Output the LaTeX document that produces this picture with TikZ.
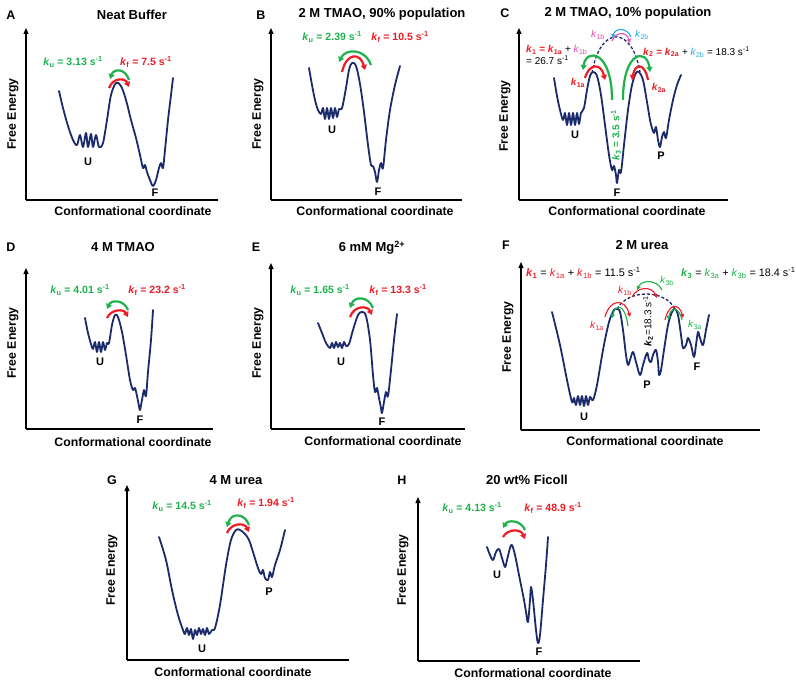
\documentclass[tikz,border=0pt]{standalone}
\usepackage{fontspec}
\setmainfont{Liberation Sans}
\usetikzlibrary{arrows.meta}
\definecolor{navy}{RGB}{27,42,107}
\definecolor{kgreen}{RGB}{30,178,76}
\definecolor{kred}{RGB}{238,28,37}
\definecolor{kpink}{RGB}{232,76,176}
\definecolor{kblue}{RGB}{42,170,226}
\newcommand\karc[6]{\draw[#1] (#2,#3) .. controls ({#2+0.2*(#4-#2)},{#3-1.333*(#3-#6)}) and ({#4-0.2*(#4-#2)},{#5-1.333*(#5-#6)}) .. (#4,#5);}
\newcommand\kk[1]{\textit{k}\textsubscript{#1}}
\begin{document}
\begin{tikzpicture}[x=1pt,y=-1pt,
  curve/.style={navy, line width=1.8pt, line join=round, line cap=round},
  xax/.style={black, line width=1.1pt},
  yax/.style={black, line width=1.1pt, -{Triangle[length=6pt,width=5pt]}},
  garr/.style={kgreen, line width=2.2pt, -{Triangle[length=5pt,width=6pt]}},
  rarr/.style={kred, line width=2.2pt, -{Triangle[length=5pt,width=6pt]}},
  gthin/.style={kgreen, line width=1.1pt, -{Triangle[length=4pt,width=4pt]}},
  rthin/.style={kred, line width=1.1pt, -{Triangle[length=4pt,width=4pt]}},
  pthin/.style={kpink, line width=1.1pt, -{Triangle[length=4pt,width=4pt]}},
  bthin/.style={kblue, line width=1.1pt, -{Triangle[length=4pt,width=4pt]}},
  dashline/.style={navy, line width=1.3pt, dash pattern=on 3pt off 2pt},
  ttl/.style={font=\bfseries\fontsize{13}{15}\selectfont},
  plab/.style={font=\bfseries\fontsize{12.5}{14}\selectfont},
  axl/.style={font=\bfseries\fontsize{12.3}{14}\selectfont},
  fel/.style={axl, rotate=90},
  st/.style={font=\bfseries\fontsize{11}{13}\selectfont},
  rate/.style={font=\bfseries\fontsize{10.5}{12}\selectfont},
  small/.style={font=\fontsize{10}{12}\selectfont, inner sep=0pt},
]
\useasboundingbox (0,0) rectangle (796,682);
\fill[white] (0,0) rectangle (796,682);

% ===== Panel A =====
\node[plab] (lA) at (11,15) {A};
\node[ttl] (tA) at (132,15) {Neat Buffer};
\draw[yax] (26,200) -- (26,28);
\draw[xax] (26,200) -- (218,200);
\node[fel] (feA) at (13,114) {Free Energy};
\node[axl] (ccA) at (133,211) {Conformational coordinate};
\draw[curve] plot[smooth, tension=0.55] coordinates {(59,91) (63,108) (68,126) (73,140) (77,145) (80,135) (83,147) (86,133) (88,147) (91,134) (93,147) (96,135) (99,147) (103,143) (107,120) (111,95) (116,83) (121,86) (126,100) (131,120) (136,138) (140,155) (143,168) (145,165) (147,172) (150,180) (153,186) (156,180) (159,168) (161,163) (163,168) (165,150) (168,120) (171,95) (173,78)};
\node[st] (uA) at (88,162) {U};
\node[st] (fA) at (155,193) {F};
\karc{garr}{129}{80}{110}{79}{71}
\karc{rarr}{109}{88}{129}{87}{80}
\node[rate, text=kgreen] (kuA) at (73,62) {\kk{u} = 3.13 s\textsuperscript{-1}};
\node[rate, text=kred] (kfA) at (146,62) {\kk{f} = 7.5 s\textsuperscript{-1}};

% ===== Panel B =====
\node[plab] (lB) at (261,15) {B};
\node[ttl] (tB) at (382,14) {2 M TMAO, 90\% population};
\draw[yax] (271,200) -- (271,28);
\draw[xax] (271,200) -- (462,200);
\node[fel] (feB) at (258,114) {Free Energy};
\node[axl] (ccB) at (375,211) {Conformational coordinate};
\draw[curve] plot[smooth, tension=0.55] coordinates {(309,68) (312,85) (315,100) (318,110) (321,114) (323,108) (325,119) (327,108) (329,119) (331,108) (333,118) (335,108) (337,117) (339,109) (342,108) (346,88) (349,70) (352,63) (356,66) (360,84) (364,112) (368,145) (371,165) (373,166) (375,172) (377,182) (379,170) (381,163) (383,168) (386,140) (390,110) (395,85) (400,66)};
\node[st] (uB) at (332,130) {U};
\node[st] (fB) at (378,192) {F};
\karc{garr}{371}{65}{339}{62}{52}
\karc{rarr}{342}{72}{365}{70}{57}
\node[rate, text=kgreen] (kuB) at (332,37) {\kk{u} = 2.39 s\textsuperscript{-1}};
\node[rate, text=kred] (kfB) at (400,37) {\kk{f} = 10.5 s\textsuperscript{-1}};

% ===== Panel C =====
\node[plab] (lC) at (505,13) {C};
\node[ttl] (tC) at (628,13) {2 M TMAO, 10\% population};
\draw[yax] (519,200) -- (519,28);
\draw[xax] (519,200) -- (728,200);
\node[fel] (feC) at (505,116) {Free Energy};
\node[axl] (ccC) at (627,211) {Conformational coordinate};
\draw[curve] plot[smooth, tension=0.55] coordinates {(554,78) (557,96) (560,110) (563,120) (565,113) (567,125) (569,113) (571,125) (573,113) (575,125) (577,113) (579,124) (581,113) (584,108) (587,90) (590,76) (593,72) (597,76) (601,95) (605,125) (609,155) (612,170) (614,166) (616,175) (617,183) (619,170) (621,172) (624,145) (628,110) (632,85) (636,73) (639,72) (643,80) (647,102) (650,120) (652,128) (654,133) (656,127) (658,140) (660,147) (662,137) (664,132) (666,138) (669,120) (673,100) (677,85) (681,75)};
\node[st] (uC) at (575,135) {U};
\node[st] (fC) at (617,193) {F};
\node[st] (pC) at (661,156) {P};
\draw[dashline] (592,73) .. controls (600,25) and (632,25) .. (640,72);
\draw[garr] (612,100) .. controls (612,50) and (586,48) .. (583,70);
\draw[garr] (623,100) .. controls (623,50) and (647,48) .. (650,72);
\karc{rarr}{585}{78}{605}{80}{67}
\karc{rarr}{648}{80}{632}{80}{67}
\karc{pthin}{612}{41}{630}{43}{34}
\karc{bthin}{631}{37}{612}{38}{30}
\node[small, text=kpink] (k1bC) at (598,35) {\kk{1b}};
\node[small, text=kblue] (k2bC) at (642,35) {\kk{2b}};
\node[small, font=\bfseries\fontsize{10}{12}\selectfont, text=kred] (k1aC) at (578,83) {\kk{1a}};
\node[small, font=\bfseries\fontsize{10}{12}\selectfont, text=kred] (k2aC) at (659,88) {\kk{2a}};
\node[small, anchor=west] (c1) at (526,50) {\textcolor{kred}{\bfseries\kk{1} = \kk{1a}} + \textcolor{kpink}{\kk{1b}}};
\node[small, anchor=west] (c1b) at (526,60) {= 26.7 s\textsuperscript{-1}};
\node[small, anchor=west] (c2) at (643,52) {\textcolor{kred}{\bfseries\kk{2} = \kk{2a}} + \textcolor{kblue}{\kk{2b}} = 18.3 s\textsuperscript{-1}};
\node[small, rotate=90, font=\bfseries\fontsize{10}{12}\selectfont, text=kgreen] (k3C) at (616,135) {\kk{3} = 3.5 s\textsuperscript{-1}};

% ===== Panel D =====
\node[plab] (lD) at (11,247) {D};
\node[ttl] (tD) at (123,247) {4 M TMAO};
\draw[yax] (26,429) -- (26,268);
\draw[xax] (26,429) -- (213,429);
\node[fel] (feD) at (13,343) {Free Energy};
\node[axl] (ccD) at (133,442) {Conformational coordinate};
\draw[curve] plot[smooth, tension=0.55] coordinates {(85,318) (88,333) (91,344) (93,349) (95,342) (97,352) (99,342) (101,352) (103,342) (105,350) (107,343) (109,343) (112,325) (115,315) (118,317) (122,332) (126,355) (130,380) (133,390) (135,388) (137,396) (139,406) (140,410) (142,400) (144,390) (146,396) (148,372) (151,340) (153,310)};
\node[st] (uD) at (100,362) {U};
\node[st] (fD) at (140,420) {F};
\karc{garr}{128}{310}{107}{309}{302}
\karc{rarr}{107}{318}{128}{317}{311}
\node[rate, text=kgreen] (kuD) at (80,290) {\kk{u} = 4.01 s\textsuperscript{-1}};
\node[rate, text=kred] (kfD) at (157,290) {\kk{f} = 23.2 s\textsuperscript{-1}};

% ===== Panel E =====
\node[plab] (lE) at (256,247) {E};
\node[ttl] (tE) at (372,248) {6 mM Mg\textsuperscript{2+}};
\draw[yax] (271,429) -- (271,263);
\draw[xax] (271,429) -- (465,429);
\node[fel] (feE) at (258,343) {Free Energy};
\node[axl] (ccE) at (383,441) {Conformational coordinate};
\draw[curve] plot[smooth, tension=0.55] coordinates {(318,323) (322,333) (326,343) (330,348) (332,343) (334,348) (336,342) (338,347) (340,343) (342,348) (344,342) (346,346) (349,344) (353,330) (358,315) (362,312) (366,316) (370,340) (373,375) (375,392) (377,388) (379,398) (381,408) (382,413) (384,402) (386,392) (388,396) (391,370) (394,340) (397,314)};
\node[st] (uE) at (341,362) {U};
\node[st] (fE) at (382,422) {F};
\karc{garr}{373}{308}{350}{308}{299}
\karc{rarr}{350}{317}{372}{315}{308}
\node[rate, text=kgreen] (kuE) at (320,290) {\kk{u} = 1.65 s\textsuperscript{-1}};
\node[rate, text=kred] (kfE) at (398,290) {\kk{f} = 13.3 s\textsuperscript{-1}};

% ===== Panel F =====
\node[plab] (lF) at (506,245) {F};
\node[ttl] (tF) at (642,245) {2 M urea};
\draw[yax] (521,430) -- (521,262);
\draw[xax] (521,430) -- (760,430);
\node[fel] (feF) at (508,337) {Free Energy};
\node[axl] (ccF) at (645,441) {Conformational coordinate};
\draw[curve] plot[smooth, tension=0.55] coordinates {(552,312) (560,345) (567,380) (572,402) (574,398) (576,405) (578,396) (580,405) (582,396) (584,406) (586,396) (588,405) (590,397) (593,400) (597,385) (603,350) (609,322) (614,310) (617,309) (620,312) (623,330) (626,355) (628,365) (630,360) (633,352) (636,362) (640,375) (643,365) (647,353) (649,360) (651,362) (653,355) (656,350) (658,362) (659,375) (661,370) (664,350) (668,325) (672,312) (675,309) (678,315) (681,335) (683,348) (686,345) (688,338) (691,345) (694,357) (696,345) (698,332) (700,338) (703,345) (706,330) (709,315)};
\node[st] (uF) at (584,417) {U};
\node[st] (pF) at (647,385) {P};
\node[st] (fF) at (697,367) {F};
\draw[dashline] (617,309) .. controls (628,289) and (665,289) .. (675,309);
\karc{rthin}{605}{317}{630}{317}{303}
\karc{gthin}{628}{326}{612}{318}{308}
\karc{rthin}{632}{297}{657}{298}{289}
\karc{gthin}{662}{290}{637}{290}{282}
\karc{rthin}{665}{320}{683}{318}{307}
\karc{gthin}{682}{320}{668}{320}{310}
\node[small, text=kred] (k1aF) at (597,326) {\kk{1a}};
\node[small, text=kred] (k1bF) at (625,291) {\kk{1b}};
\node[small, text=kgreen] (k3bF) at (667,281) {\kk{3b}};
\node[small, text=kgreen] (k3aF) at (695,325) {\kk{3a}};
\node[small, rotate=90] (k2F) at (648,321) {\textbf{\kk{2}}=18.3 s\textsuperscript{-1}};
\node[small, anchor=west, font=\fontsize{10.9}{12}\selectfont] (f1) at (526,273) {\textcolor{kred}{\textbf{\kk{1}}} = \textcolor{kred}{\kk{1a}} + \textcolor{kred}{\kk{1b}} = 11.5 s\textsuperscript{-1}};
\node[small, anchor=west, font=\fontsize{10.8}{12}\selectfont] (f3) at (681,273) {\textcolor{kgreen}{\textbf{\kk{3}}} = \textcolor{kgreen}{\kk{3a}} + \textcolor{kgreen}{\kk{3b}} = 18.4 s\textsuperscript{-1}};

% ===== Panel G =====
\node[plab] (lG) at (112,480) {G};
\node[ttl] (tG) at (236,480) {4 M urea};
\draw[yax] (127,660) -- (127,485);
\draw[xax] (127,660) -- (349,660);
\node[fel] (feG) at (112,570) {Free Energy};
\node[axl] (ccG) at (233,672) {Conformational coordinate};
\draw[curve] plot[smooth, tension=0.55] coordinates {(159,537) (166,560) (172,590) (178,615) (183,630) (185,634) (187,628) (189,635) (191,629) (193,639) (195,630) (197,635) (199,628) (201,634) (203,629) (205,635) (207,628) (209,634) (212,630) (215,628) (220,605) (226,565) (231,540) (236,530) (240,530) (245,534) (249,540) (253,552) (258,568) (261,574) (263,570) (265,578) (268,580) (270,572) (272,577) (275,565) (280,550) (285,530)};
\node[st] (uG) at (202,649) {U};
\node[st] (pG) at (269,592) {P};
\karc{garr}{249}{525}{227}{527}{516}
\karc{rarr}{227}{533}{249}{532}{525}
\node[rate, text=kgreen] (kuG) at (182,506) {\kk{u} = 14.5 s\textsuperscript{-1}};
\node[rate, text=kred] (kfG) at (266,503) {\kk{f} = 1.94 s\textsuperscript{-1}};

% ===== Panel H =====
\node[plab] (lH) at (402,480) {H};
\node[ttl] (tH) at (527,480) {20 wt\% Ficoll};
\draw[yax] (418,661) -- (418,497);
\draw[xax] (418,661) -- (640,661);
\node[fel] (feH) at (403,570) {Free Energy};
\node[axl] (ccH) at (533,673) {Conformational coordinate};
\draw[curve] plot[smooth, tension=0.55] coordinates {(487,547) (490,555) (493,560) (496,552) (499,549) (502,558) (505,567) (507,560) (510,548) (512,545) (515,555) (519,575) (524,600) (526,612) (528,622) (530,600) (531,587) (533,600) (536,630) (538,643) (540,635) (543,600) (546,565) (548,537)};
\node[st] (uH) at (497,575) {U};
\node[st] (fH) at (539,652) {F};
\karc{garr}{525}{530}{503}{528}{522}
\karc{rarr}{503}{537}{525}{539}{531}
\node[rate, text=kgreen] (kuH) at (472,508) {\kk{u} = 4.13 s\textsuperscript{-1}};
\node[rate, text=kred] (kfH) at (553,508) {\kk{f} = 48.9 s\textsuperscript{-1}};
\end{tikzpicture}
\end{document}
